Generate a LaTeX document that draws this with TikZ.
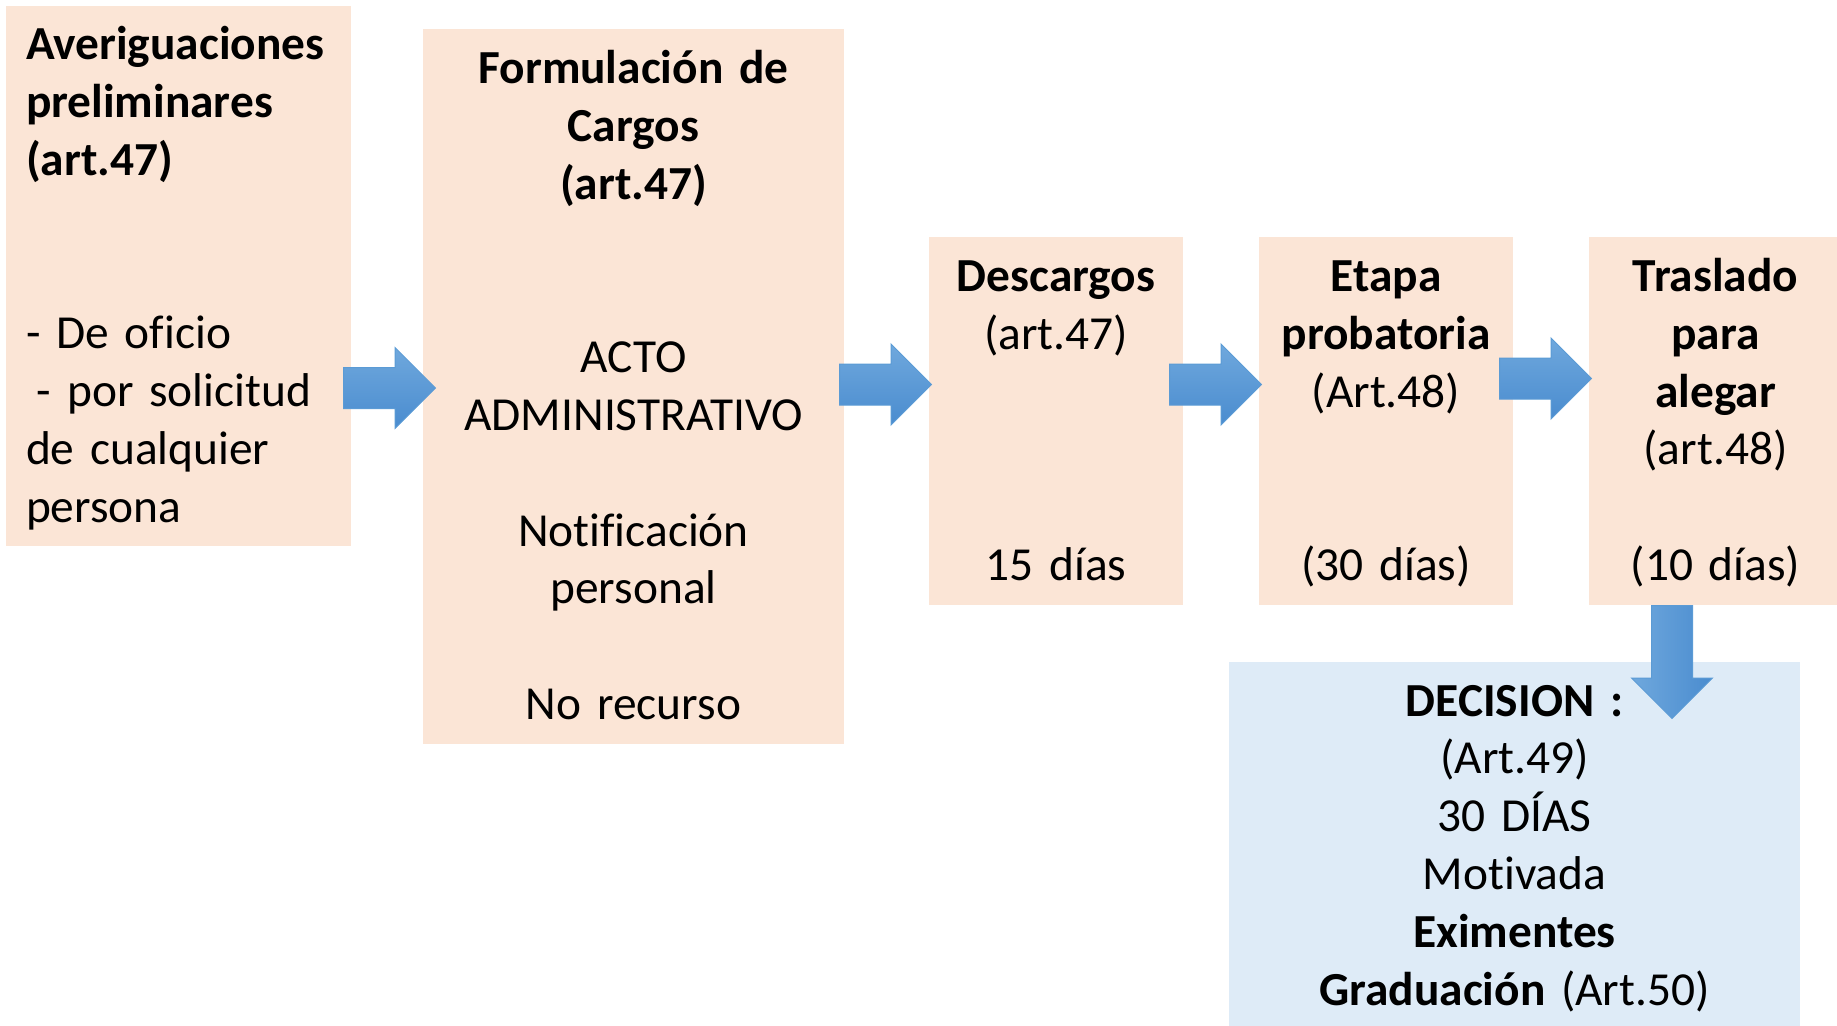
\documentclass[tikz,border=0pt]{standalone}
\usepackage{fontspec}
\setmainfont{Carlito}[Ligatures=NoCommon]
\usepackage{tikz}
\usetikzlibrary{shapes.arrows}
\definecolor{durazno}{HTML}{FBE5D6}
\definecolor{celeste}{HTML}{DEEBF7}
\definecolor{azulclaro}{HTML}{6FA8DD}
\definecolor{azuloscuro}{HTML}{4A8CCF}
\definecolor{azulborde}{HTML}{5B9BD5}

\begin{document}
\begin{tikzpicture}
[x=1pt,y=1pt,
 caja/.style={fill=durazno,inner sep=0pt,align=center,
   font=\fontsize{23.7}{28.9}\selectfont,
   execute at begin node=\rule{0pt}{23.7pt},execute at end node=\strut},
 flecha/.style={single arrow,anchor=tail,inner xsep=0pt,inner ysep=10pt,
   single arrow head extend=10pt,minimum height=46pt,
   draw=azulborde,line width=0.5pt,top color=azulclaro,bottom color=azuloscuro}]
\useasboundingbox (0,0) rectangle (918.5,-512.5);
\draw (89.25,-138) node[caja,align=left,minimum width=172.5pt,minimum height=270pt,text width=152.5pt] (aver)
  {\textbf{Averiguaciones}\\\textbf{preliminares}\\\textbf{(art.47)}\\[57.8pt]- De oficio\\\hspace*{0.23em}- por solicitud\\de cualquier\\persona};
\draw (316.75,-193.25) node[caja,minimum width=210.5pt,minimum height=357.5pt,text width=200pt] (form)
  {\textbf{Formulación de}\\\textbf{Cargos}\\\textbf{(art.47)}\\[57.8pt]ACTO\\ADMINISTRATIVO\\[28.9pt]Notificación\\personal\\[28.9pt]No recurso};
\draw (528,-210.5) node[caja,minimum width=127pt,minimum height=184pt,text width=120pt] (desc)
  {\textbf{Descargos}\\(art.47)\\[86.7pt]15 días};
\draw (693,-210.5) node[caja,minimum width=127pt,minimum height=184pt,text width=120pt] (etapa)
  {\textbf{Etapa}\\\textbf{probatoria}\\(Art.48)\\[57.8pt](30 días)};
\draw (857.75,-210.5) node[caja,minimum width=126.5pt,minimum height=184pt,text width=120pt] (tras)
  {\textbf{Traslado}\\\textbf{para}\\\textbf{alegar}\\(art.48)\\[28.9pt](10 días)};
\draw (757.25,-422.75) node[caja,fill=celeste,minimum width=285.5pt,minimum height=183.5pt,text width=278pt] (dec)
  {\textbf{DECISION :}\\(Art.49)\\30 DÍAS\\Motivada\\\textbf{Eximentes}\\\textbf{Graduación} (Art.50)};
% flechas
\draw (171.5,-194) node[flecha] (f1) {};
\draw (419.5,-192.25) node[flecha] (f2) {};
\draw (584.5,-192.25) node[flecha] (f3) {};
\draw (749.5,-189.25) node[flecha] (f4) {};
\draw (836,-302.5) node[flecha,rotate=-90,minimum height=56.5pt,left color=azulclaro,right color=azuloscuro] (f5) {};
\end{tikzpicture}
\end{document}
